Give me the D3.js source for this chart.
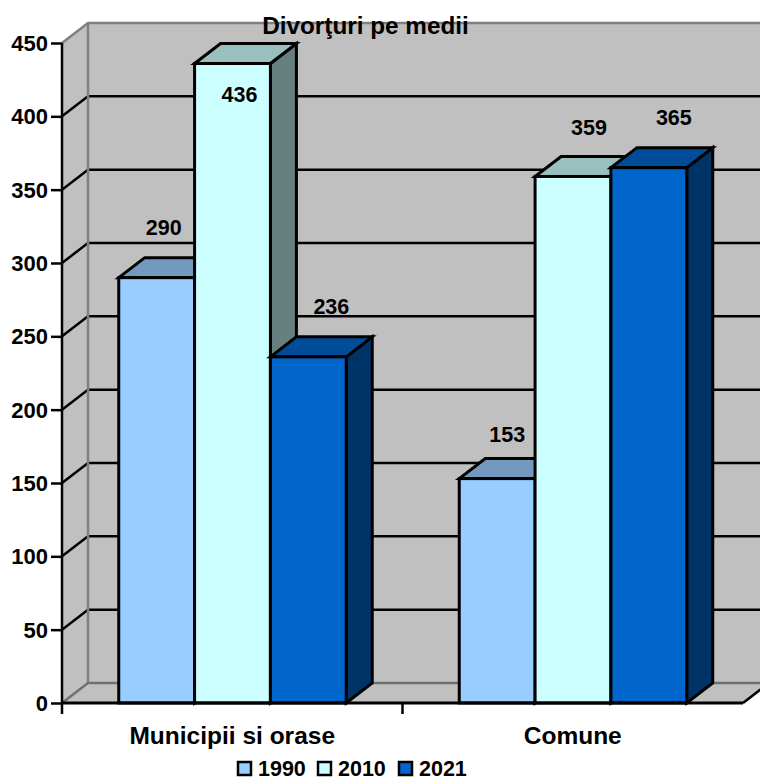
<!DOCTYPE html>
<html><head><meta charset="utf-8">
<script src="https://cdn.jsdelivr.net/npm/d3@7"></script>
<style>html,body{margin:0;padding:0;background:#fff}svg{display:block}text{font-family:"Liberation Sans",Arial,sans-serif;font-weight:bold;fill:#000}</style>
</head><body><svg id="c" width="760" height="778"></svg>
<script>
const categories = ["Municipii si orase", "Comune"];
const seriesNames = ["1990", "2010", "2021"];
const values1990 = [290, 153];
const values2010 = [436, 359];
const values2021 = [236, 365];
const yTicks = [0, 50, 100, 150, 200, 250, 300, 350, 400, 450];
const titleText = "Divorţuri pe medii";

const allValues = [values1990, values2010, values2021];
const fronts = ["#99CCFF", "#CCFFFF", "#0066CC"];
const tops = ["#7399BF", "#99BFBF", "#004C99"];
const sides = ["#4D6680", "#668080", "#003366"];
// label displacement from bar centre / bar top, as placed by the source chart
const labelDx = [[7, 7, 23], [10, 16, 25]];
const labelDy = [[-50, 31, -51], [-44, -49, -50]];

const svg = d3.select("#c");
const dx = 26, dy = -20, sw = 3;
const groupWidth = 227.5;
const x0 = d3.scaleBand().domain(categories).range([62, 743]);
const x1 = d3.scaleBand().domain(seriesNames).range([0, groupWidth]);
const y = d3.scaleLinear().domain([0, 450]).range([703, 43]);
const groupOffset = (x0.bandwidth() - groupWidth) / 2 + 0.25;
const L = x0.range()[0], R = x0.range()[1], pts = a => a.map(p => p.join(",")).join(" ");

// walls
svg.append("polygon").attr("points", pts([[L, y(0)], [L + dx, y(0) + dy], [L + dx, y(450) + dy], [L, y(450)]])).attr("fill", "#C0C0C0");
svg.append("polygon").attr("points", pts([[L + dx, y(0) + dy], [790, y(0) + dy], [790, y(450) + dy], [L + dx, y(450) + dy]])).attr("fill", "#C0C0C0");
svg.append("polygon").attr("points", pts([[L, y(0)], [R, y(0)], [R + dx, y(0) + dy], [L + dx, y(0) + dy]])).attr("fill", "#C0C0C0");

// gridlines
yTicks.filter(t => t > 0 && t < 450).forEach(t => {
  svg.append("polyline").attr("points", pts([[L, y(t)], [L + dx, y(t) + dy], [790, y(t) + dy]]))
    .attr("fill", "none").attr("stroke", "#000").attr("stroke-width", 2.5);
});
// wall frame
const frame = "#808080";
svg.append("polyline").attr("points", pts([[L, y(450)], [L + dx, y(450) + dy], [790, y(450) + dy]])).attr("fill", "none").attr("stroke", frame).attr("stroke-width", 2.5);
svg.append("line").attr("x1", L + dx).attr("x2", L + dx).attr("y1", y(450) + dy).attr("y2", y(0) + dy).attr("stroke", frame).attr("stroke-width", 2.5);
svg.append("polyline").attr("points", pts([[L, y(0)], [L + dx, y(0) + dy], [790, y(0) + dy]])).attr("fill", "none").attr("stroke", "#707070").attr("stroke-width", 2.5);
svg.append("line").attr("x1", R).attr("x2", R + dx).attr("y1", y(0)).attr("y2", y(0) + dy).attr("stroke", "#000").attr("stroke-width", 2.5);

// bars
categories.forEach((c, ci) => {
  seriesNames.forEach((s, si) => {
    const v = allValues[si][ci];
    const xa = x0(c) + groupOffset + x1(s), xb = xa + x1.bandwidth(), yt = y(v), yb = y(0);
    const g = svg.append("g").attr("stroke", "#000").attr("stroke-width", sw).attr("stroke-linejoin", "miter");
    g.append("polygon").attr("points", pts([[xb, yt], [xb + dx, yt + dy], [xb + dx, yb + dy], [xb, yb]])).attr("fill", sides[si]);
    g.append("polygon").attr("points", pts([[xa, yt], [xa + dx, yt + dy], [xb + dx, yt + dy], [xb, yt]])).attr("fill", tops[si]);
    g.append("rect").attr("x", xa).attr("y", yt).attr("width", xb - xa).attr("height", yb - yt).attr("fill", fronts[si]);
  });
});

// labels (above all bars)
categories.forEach((c, ci) => {
  seriesNames.forEach((s, si) => {
    const v = allValues[si][ci];
    svg.append("text").attr("x", x0(c) + groupOffset + x1(s) + x1.bandwidth() / 2 + labelDx[ci][si])
      .attr("y", y(v) + labelDy[ci][si]).attr("dy", "0.36em").attr("text-anchor", "middle")
      .attr("font-size", 21.5).text(v);
  });
});

// axes
const axL = svg.append("g").attr("transform", `translate(${L},0)`).call(d3.axisLeft(y).tickValues(yTicks).tickSize(11).tickPadding(3).tickFormat(d3.format("d")));
axL.selectAll("text").attr("font-size", 22).style("font-family", '"Liberation Sans",Arial,sans-serif').style("font-weight", "bold").attr("dy", "0.34em");
axL.selectAll("line,path").attr("stroke", "#000").attr("stroke-width", 2.5);
axL.select("path").attr("d", `M0,${y(450)}V${y(0)}`);

const edges = [...categories.map(c => x0(c)), R];
const axB = svg.append("g").attr("transform", `translate(0,${y(0)})`);
axB.append("line").attr("x1", L).attr("x2", R).attr("stroke", "#000").attr("stroke-width", 3);
edges.slice(0, 2).forEach(e => axB.append("line").attr("x1", e).attr("x2", e).attr("y1", 0).attr("y2", 11).attr("stroke", "#000").attr("stroke-width", 2.5));
categories.forEach(c => axB.append("text").attr("x", x0(c) + x0.bandwidth() / 2).attr("y", 32).attr("dy", "0.36em").attr("text-anchor", "middle").attr("font-size", 24.5).text(c));

// title
svg.append("text").attr("x", 365.5).attr("y", 25).attr("dy", "0.36em").attr("text-anchor", "middle").attr("font-size", 24.3).text(titleText);

// legend
const legendX = d3.scaleOrdinal().domain(seriesNames).range([238, 318, 399]);
seriesNames.forEach((s, i) => {
  svg.append("rect").attr("x", legendX(s)).attr("y", 762).attr("width", 13).attr("height", 13).attr("fill", fronts[i]).attr("stroke", "#000").attr("stroke-width", 2.5);
  svg.append("text").attr("x", legendX(s) + 20).attr("y", 768.5).attr("dy", "0.36em").attr("font-size", 21.5).text(s);
});
</script></body></html>
